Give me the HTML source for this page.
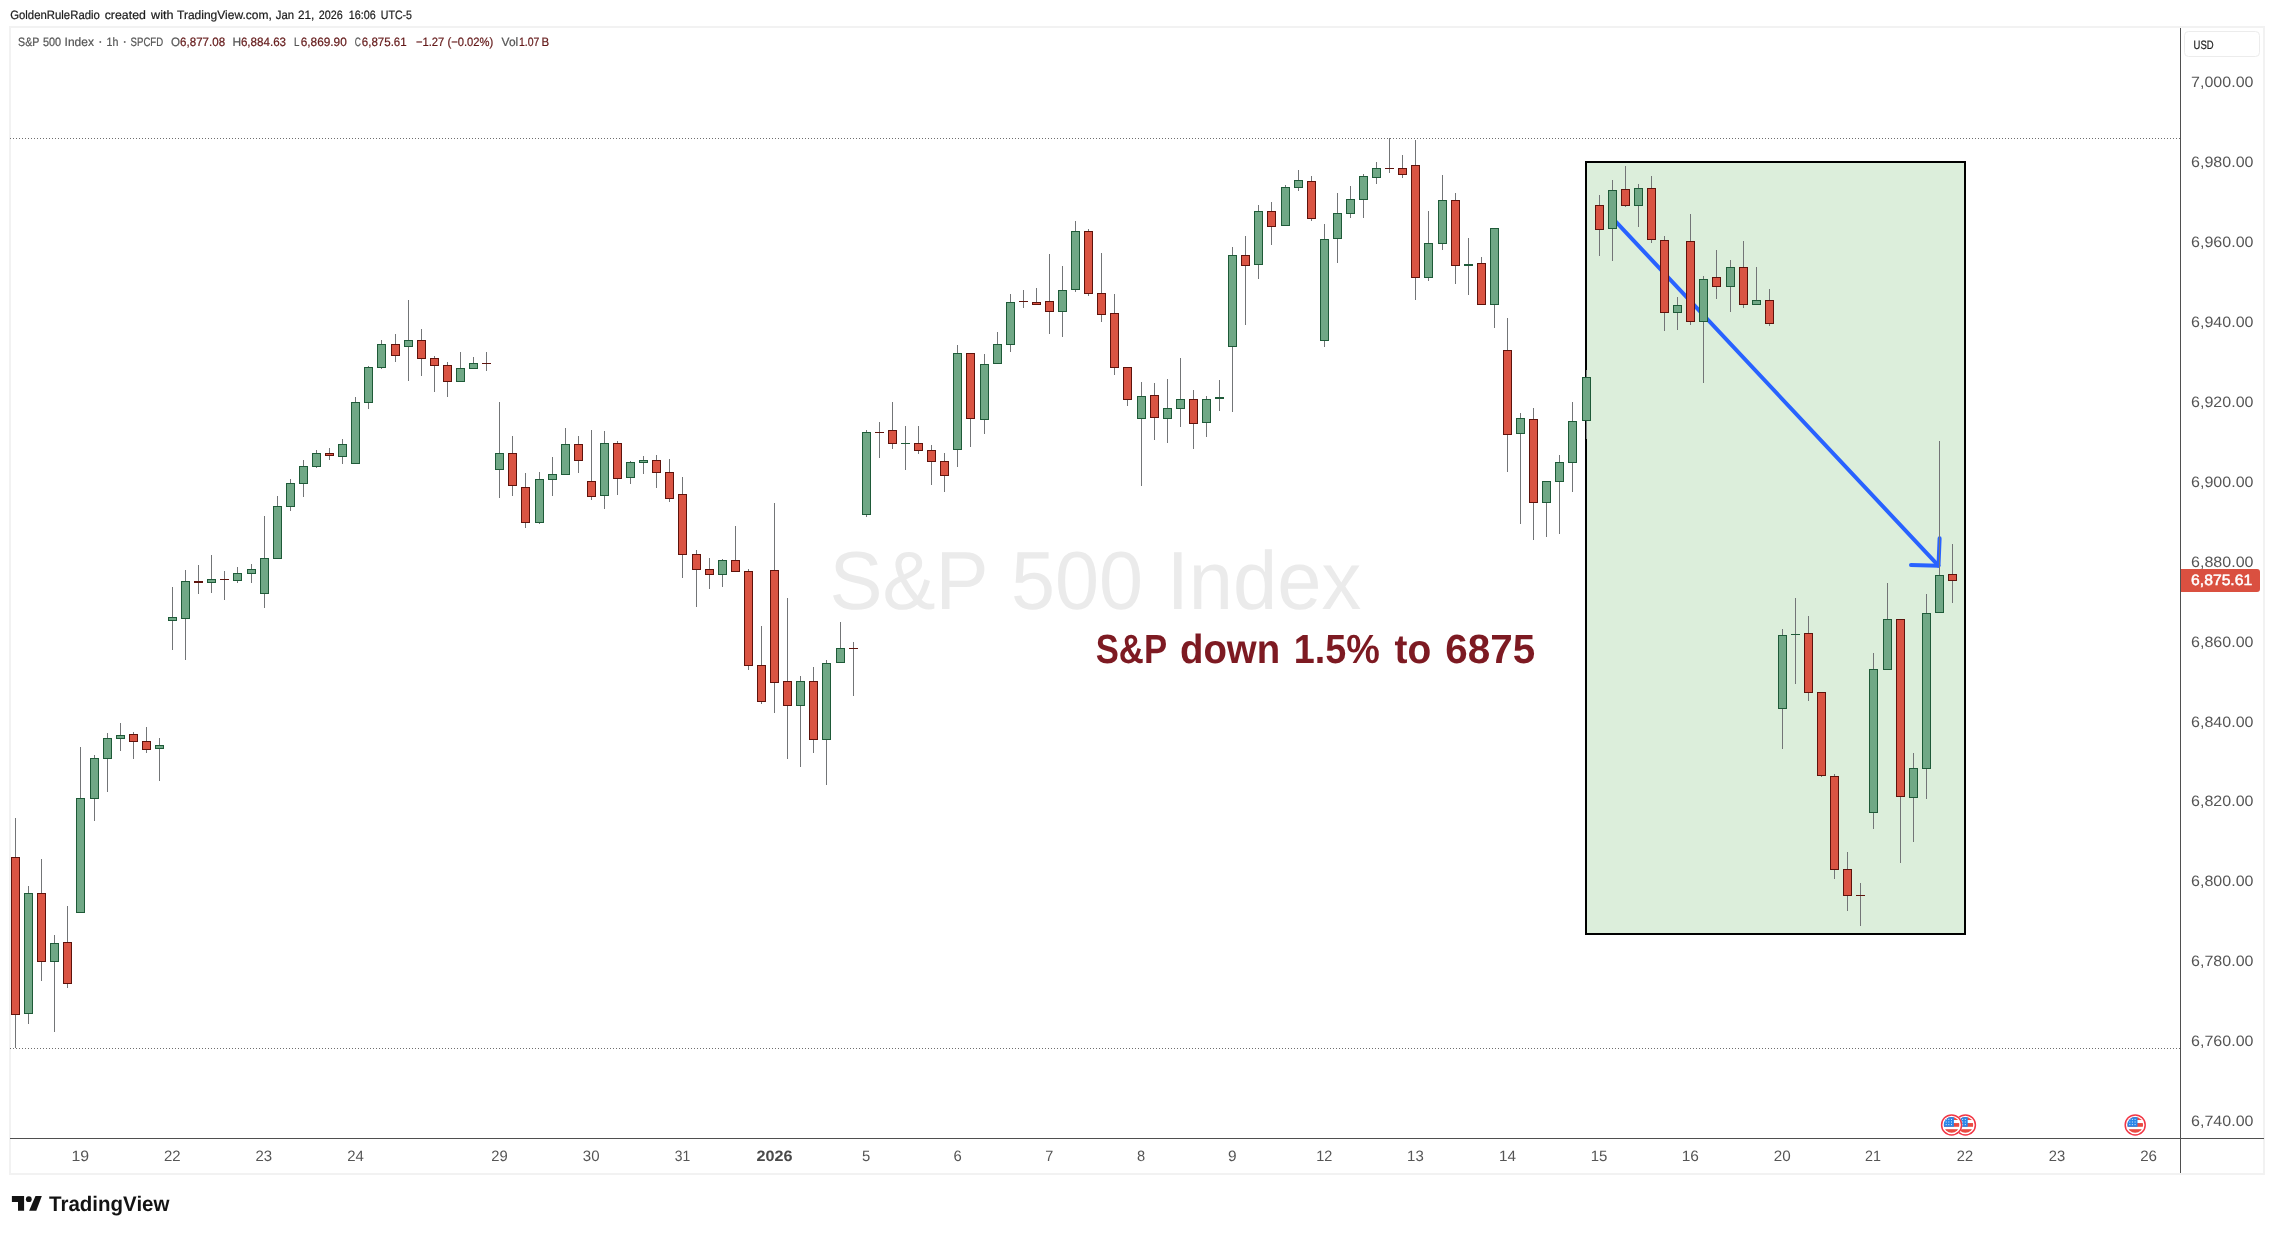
<!DOCTYPE html><html><head><meta charset="utf-8"><title>S&amp;P 500 Index</title><style>html,body{margin:0;padding:0;background:#fff;}body{width:2274px;height:1234px;overflow:hidden;}svg{display:block;font-family:"Liberation Sans", sans-serif;}text{white-space:pre;}</style></head><body><div style="will-change:transform;width:2274px;height:1234px">
<svg width="2274" height="1234" viewBox="0 0 2274 1234" shape-rendering="crispEdges" text-rendering="geometricPrecision">
<rect width="2274" height="1234" fill="#ffffff"/>
<rect x="10" y="27" width="2254" height="1146.5" fill="none" stroke="#f2f2f2" stroke-width="2"/>
<g shape-rendering="auto"><text transform="translate(829.51,609.00) scale(0.9636,1)" font-size="82.50" fill="#ebebeb">S&amp;P</text>
<text transform="translate(1011.12,609.00) scale(0.9585,1)" font-size="82.50" fill="#ebebeb">500</text>
<text transform="translate(1166.65,609.00) scale(0.9637,1)" font-size="82.50" fill="#ebebeb">Index</text></g>
<line x1="10" y1="138.5" x2="2180" y2="138.5" stroke="#6e6e6e" stroke-width="1" stroke-dasharray="1 2"/>
<line x1="10" y1="1048.5" x2="2180" y2="1048.5" stroke="#6e6e6e" stroke-width="1" stroke-dasharray="1 2"/>
<rect x="1586" y="162" width="379" height="772" fill="#dceedb" stroke="#000000" stroke-width="2"/>
<g shape-rendering="auto" stroke="#2962ff" stroke-width="4" stroke-linecap="round" fill="none"><line x1="1611.3" y1="216.8" x2="1938.4" y2="565.6"/><polyline points="1939.6,538.3 1938.5,565.7 1911,565.0" stroke-linejoin="round"/></g>
<rect x="15" y="818" width="1" height="230" fill="#737577"/>
<rect x="11" y="857" width="9" height="158" fill="#5e130c"/>
<rect x="12" y="858" width="7" height="156" fill="#da5443"/>
<rect x="28" y="886" width="1" height="138" fill="#737577"/>
<rect x="24" y="893" width="9" height="121" fill="#1e5a38"/>
<rect x="25" y="894" width="7" height="119" fill="#70a886"/>
<rect x="41" y="859" width="1" height="122" fill="#737577"/>
<rect x="37" y="893" width="9" height="69" fill="#5e130c"/>
<rect x="38" y="894" width="7" height="67" fill="#da5443"/>
<rect x="54" y="935" width="1" height="97" fill="#737577"/>
<rect x="50" y="943" width="9" height="19" fill="#1e5a38"/>
<rect x="51" y="944" width="7" height="17" fill="#70a886"/>
<rect x="67" y="906" width="1" height="82" fill="#737577"/>
<rect x="63" y="942" width="9" height="42" fill="#5e130c"/>
<rect x="64" y="943" width="7" height="40" fill="#da5443"/>
<rect x="80" y="747" width="1" height="166" fill="#737577"/>
<rect x="76" y="798" width="9" height="115" fill="#1e5a38"/>
<rect x="77" y="799" width="7" height="113" fill="#70a886"/>
<rect x="94" y="755" width="1" height="66" fill="#737577"/>
<rect x="90" y="758" width="9" height="41" fill="#1e5a38"/>
<rect x="91" y="759" width="7" height="39" fill="#70a886"/>
<rect x="107" y="733" width="1" height="59" fill="#737577"/>
<rect x="103" y="738" width="9" height="21" fill="#1e5a38"/>
<rect x="104" y="739" width="7" height="19" fill="#70a886"/>
<rect x="120" y="723" width="1" height="28" fill="#737577"/>
<rect x="116" y="735" width="9" height="4" fill="#1e5a38"/>
<rect x="117" y="736" width="7" height="2" fill="#70a886"/>
<rect x="133" y="732" width="1" height="27" fill="#737577"/>
<rect x="129" y="734" width="9" height="8" fill="#5e130c"/>
<rect x="130" y="735" width="7" height="6" fill="#da5443"/>
<rect x="146" y="727" width="1" height="26" fill="#737577"/>
<rect x="142" y="741" width="9" height="9" fill="#5e130c"/>
<rect x="143" y="742" width="7" height="7" fill="#da5443"/>
<rect x="159" y="738" width="1" height="43" fill="#737577"/>
<rect x="155" y="745" width="9" height="4" fill="#1e5a38"/>
<rect x="156" y="746" width="7" height="2" fill="#70a886"/>
<rect x="172" y="587" width="1" height="63" fill="#737577"/>
<rect x="168" y="617" width="9" height="4" fill="#1e5a38"/>
<rect x="169" y="618" width="7" height="2" fill="#70a886"/>
<rect x="185" y="570" width="1" height="90" fill="#737577"/>
<rect x="181" y="581" width="9" height="38" fill="#1e5a38"/>
<rect x="182" y="582" width="7" height="36" fill="#70a886"/>
<rect x="198" y="565" width="1" height="29" fill="#737577"/>
<rect x="194" y="581" width="9" height="2" fill="#5e130c"/>
<rect x="211" y="555" width="1" height="38" fill="#737577"/>
<rect x="207" y="579" width="9" height="4" fill="#1e5a38"/>
<rect x="208" y="580" width="7" height="2" fill="#70a886"/>
<rect x="224" y="571" width="1" height="29" fill="#737577"/>
<rect x="220" y="579" width="9" height="1" fill="#5e130c"/>
<rect x="237" y="567" width="1" height="16" fill="#737577"/>
<rect x="233" y="573" width="9" height="8" fill="#1e5a38"/>
<rect x="234" y="574" width="7" height="6" fill="#70a886"/>
<rect x="251" y="564" width="1" height="19" fill="#737577"/>
<rect x="247" y="569" width="9" height="5" fill="#1e5a38"/>
<rect x="248" y="570" width="7" height="3" fill="#70a886"/>
<rect x="264" y="516" width="1" height="92" fill="#737577"/>
<rect x="260" y="558" width="9" height="36" fill="#1e5a38"/>
<rect x="261" y="559" width="7" height="34" fill="#70a886"/>
<rect x="277" y="496" width="1" height="63" fill="#737577"/>
<rect x="273" y="506" width="9" height="53" fill="#1e5a38"/>
<rect x="274" y="507" width="7" height="51" fill="#70a886"/>
<rect x="290" y="479" width="1" height="32" fill="#737577"/>
<rect x="286" y="483" width="9" height="24" fill="#1e5a38"/>
<rect x="287" y="484" width="7" height="22" fill="#70a886"/>
<rect x="303" y="460" width="1" height="37" fill="#737577"/>
<rect x="299" y="466" width="9" height="18" fill="#1e5a38"/>
<rect x="300" y="467" width="7" height="16" fill="#70a886"/>
<rect x="316" y="450" width="1" height="18" fill="#737577"/>
<rect x="312" y="453" width="9" height="14" fill="#1e5a38"/>
<rect x="313" y="454" width="7" height="12" fill="#70a886"/>
<rect x="329" y="448" width="1" height="12" fill="#737577"/>
<rect x="325" y="453" width="9" height="3" fill="#5e130c"/>
<rect x="326" y="454" width="7" height="1" fill="#da5443"/>
<rect x="342" y="439" width="1" height="25" fill="#737577"/>
<rect x="338" y="444" width="9" height="13" fill="#1e5a38"/>
<rect x="339" y="445" width="7" height="11" fill="#70a886"/>
<rect x="355" y="397" width="1" height="67" fill="#737577"/>
<rect x="351" y="402" width="9" height="62" fill="#1e5a38"/>
<rect x="352" y="403" width="7" height="60" fill="#70a886"/>
<rect x="368" y="366" width="1" height="43" fill="#737577"/>
<rect x="364" y="367" width="9" height="36" fill="#1e5a38"/>
<rect x="365" y="368" width="7" height="34" fill="#70a886"/>
<rect x="381" y="340" width="1" height="29" fill="#737577"/>
<rect x="377" y="344" width="9" height="24" fill="#1e5a38"/>
<rect x="378" y="345" width="7" height="22" fill="#70a886"/>
<rect x="395" y="334" width="1" height="28" fill="#737577"/>
<rect x="391" y="344" width="9" height="12" fill="#5e130c"/>
<rect x="392" y="345" width="7" height="10" fill="#da5443"/>
<rect x="408" y="300" width="1" height="81" fill="#737577"/>
<rect x="404" y="340" width="9" height="7" fill="#1e5a38"/>
<rect x="405" y="341" width="7" height="5" fill="#70a886"/>
<rect x="421" y="329" width="1" height="47" fill="#737577"/>
<rect x="417" y="340" width="9" height="19" fill="#5e130c"/>
<rect x="418" y="341" width="7" height="17" fill="#da5443"/>
<rect x="434" y="356" width="1" height="36" fill="#737577"/>
<rect x="430" y="358" width="9" height="8" fill="#5e130c"/>
<rect x="431" y="359" width="7" height="6" fill="#da5443"/>
<rect x="447" y="362" width="1" height="35" fill="#737577"/>
<rect x="443" y="365" width="9" height="17" fill="#5e130c"/>
<rect x="444" y="366" width="7" height="15" fill="#da5443"/>
<rect x="460" y="352" width="1" height="30" fill="#737577"/>
<rect x="456" y="368" width="9" height="14" fill="#1e5a38"/>
<rect x="457" y="369" width="7" height="12" fill="#70a886"/>
<rect x="473" y="357" width="1" height="12" fill="#737577"/>
<rect x="469" y="363" width="9" height="6" fill="#1e5a38"/>
<rect x="470" y="364" width="7" height="4" fill="#70a886"/>
<rect x="486" y="352" width="1" height="19" fill="#737577"/>
<rect x="482" y="363" width="9" height="1" fill="#5e130c"/>
<rect x="499" y="402" width="1" height="96" fill="#737577"/>
<rect x="495" y="453" width="9" height="17" fill="#1e5a38"/>
<rect x="496" y="454" width="7" height="15" fill="#70a886"/>
<rect x="512" y="436" width="1" height="60" fill="#737577"/>
<rect x="508" y="453" width="9" height="33" fill="#5e130c"/>
<rect x="509" y="454" width="7" height="31" fill="#da5443"/>
<rect x="525" y="473" width="1" height="55" fill="#737577"/>
<rect x="521" y="487" width="9" height="36" fill="#5e130c"/>
<rect x="522" y="488" width="7" height="34" fill="#da5443"/>
<rect x="539" y="472" width="1" height="52" fill="#737577"/>
<rect x="535" y="479" width="9" height="44" fill="#1e5a38"/>
<rect x="536" y="480" width="7" height="42" fill="#70a886"/>
<rect x="552" y="457" width="1" height="39" fill="#737577"/>
<rect x="548" y="474" width="9" height="6" fill="#1e5a38"/>
<rect x="549" y="475" width="7" height="4" fill="#70a886"/>
<rect x="565" y="428" width="1" height="47" fill="#737577"/>
<rect x="561" y="444" width="9" height="31" fill="#1e5a38"/>
<rect x="562" y="445" width="7" height="29" fill="#70a886"/>
<rect x="578" y="436" width="1" height="37" fill="#737577"/>
<rect x="574" y="444" width="9" height="17" fill="#5e130c"/>
<rect x="575" y="445" width="7" height="15" fill="#da5443"/>
<rect x="591" y="430" width="1" height="70" fill="#737577"/>
<rect x="587" y="481" width="9" height="16" fill="#5e130c"/>
<rect x="588" y="482" width="7" height="14" fill="#da5443"/>
<rect x="604" y="431" width="1" height="78" fill="#737577"/>
<rect x="600" y="443" width="9" height="53" fill="#1e5a38"/>
<rect x="601" y="444" width="7" height="51" fill="#70a886"/>
<rect x="617" y="441" width="1" height="54" fill="#737577"/>
<rect x="613" y="443" width="9" height="36" fill="#5e130c"/>
<rect x="614" y="444" width="7" height="34" fill="#da5443"/>
<rect x="630" y="461" width="1" height="23" fill="#737577"/>
<rect x="626" y="462" width="9" height="16" fill="#1e5a38"/>
<rect x="627" y="463" width="7" height="14" fill="#70a886"/>
<rect x="643" y="456" width="1" height="18" fill="#737577"/>
<rect x="639" y="460" width="9" height="3" fill="#1e5a38"/>
<rect x="640" y="461" width="7" height="1" fill="#70a886"/>
<rect x="656" y="455" width="1" height="33" fill="#737577"/>
<rect x="652" y="460" width="9" height="13" fill="#5e130c"/>
<rect x="653" y="461" width="7" height="11" fill="#da5443"/>
<rect x="669" y="459" width="1" height="43" fill="#737577"/>
<rect x="665" y="472" width="9" height="27" fill="#5e130c"/>
<rect x="666" y="473" width="7" height="25" fill="#da5443"/>
<rect x="682" y="477" width="1" height="101" fill="#737577"/>
<rect x="678" y="494" width="9" height="61" fill="#5e130c"/>
<rect x="679" y="495" width="7" height="59" fill="#da5443"/>
<rect x="696" y="550" width="1" height="57" fill="#737577"/>
<rect x="692" y="554" width="9" height="16" fill="#5e130c"/>
<rect x="693" y="555" width="7" height="14" fill="#da5443"/>
<rect x="709" y="558" width="1" height="31" fill="#737577"/>
<rect x="705" y="569" width="9" height="6" fill="#5e130c"/>
<rect x="706" y="570" width="7" height="4" fill="#da5443"/>
<rect x="722" y="559" width="1" height="28" fill="#737577"/>
<rect x="718" y="560" width="9" height="15" fill="#1e5a38"/>
<rect x="719" y="561" width="7" height="13" fill="#70a886"/>
<rect x="735" y="526" width="1" height="46" fill="#737577"/>
<rect x="731" y="560" width="9" height="12" fill="#5e130c"/>
<rect x="732" y="561" width="7" height="10" fill="#da5443"/>
<rect x="748" y="569" width="1" height="101" fill="#737577"/>
<rect x="744" y="571" width="9" height="95" fill="#5e130c"/>
<rect x="745" y="572" width="7" height="93" fill="#da5443"/>
<rect x="761" y="626" width="1" height="78" fill="#737577"/>
<rect x="757" y="665" width="9" height="37" fill="#5e130c"/>
<rect x="758" y="666" width="7" height="35" fill="#da5443"/>
<rect x="774" y="503" width="1" height="210" fill="#737577"/>
<rect x="770" y="570" width="9" height="113" fill="#5e130c"/>
<rect x="771" y="571" width="7" height="111" fill="#da5443"/>
<rect x="787" y="598" width="1" height="161" fill="#737577"/>
<rect x="783" y="681" width="9" height="25" fill="#5e130c"/>
<rect x="784" y="682" width="7" height="23" fill="#da5443"/>
<rect x="800" y="676" width="1" height="91" fill="#737577"/>
<rect x="796" y="681" width="9" height="25" fill="#1e5a38"/>
<rect x="797" y="682" width="7" height="23" fill="#70a886"/>
<rect x="813" y="667" width="1" height="86" fill="#737577"/>
<rect x="809" y="681" width="9" height="59" fill="#5e130c"/>
<rect x="810" y="682" width="7" height="57" fill="#da5443"/>
<rect x="826" y="660" width="1" height="125" fill="#737577"/>
<rect x="822" y="663" width="9" height="77" fill="#1e5a38"/>
<rect x="823" y="664" width="7" height="75" fill="#70a886"/>
<rect x="840" y="622" width="1" height="41" fill="#737577"/>
<rect x="836" y="648" width="9" height="15" fill="#1e5a38"/>
<rect x="837" y="649" width="7" height="13" fill="#70a886"/>
<rect x="853" y="642" width="1" height="54" fill="#737577"/>
<rect x="849" y="648" width="9" height="1" fill="#5e130c"/>
<rect x="866" y="430" width="1" height="87" fill="#737577"/>
<rect x="862" y="432" width="9" height="83" fill="#1e5a38"/>
<rect x="863" y="433" width="7" height="81" fill="#70a886"/>
<rect x="879" y="422" width="1" height="36" fill="#737577"/>
<rect x="875" y="432" width="9" height="1" fill="#5e130c"/>
<rect x="892" y="402" width="1" height="47" fill="#737577"/>
<rect x="888" y="430" width="9" height="14" fill="#5e130c"/>
<rect x="889" y="431" width="7" height="12" fill="#da5443"/>
<rect x="905" y="426" width="1" height="44" fill="#737577"/>
<rect x="901" y="443" width="9" height="1" fill="#1e5a38"/>
<rect x="918" y="426" width="1" height="28" fill="#737577"/>
<rect x="914" y="443" width="9" height="8" fill="#5e130c"/>
<rect x="915" y="444" width="7" height="6" fill="#da5443"/>
<rect x="931" y="445" width="1" height="40" fill="#737577"/>
<rect x="927" y="450" width="9" height="12" fill="#5e130c"/>
<rect x="928" y="451" width="7" height="10" fill="#da5443"/>
<rect x="944" y="453" width="1" height="39" fill="#737577"/>
<rect x="940" y="461" width="9" height="15" fill="#5e130c"/>
<rect x="941" y="462" width="7" height="13" fill="#da5443"/>
<rect x="957" y="345" width="1" height="122" fill="#737577"/>
<rect x="953" y="353" width="9" height="97" fill="#1e5a38"/>
<rect x="954" y="354" width="7" height="95" fill="#70a886"/>
<rect x="970" y="353" width="1" height="94" fill="#737577"/>
<rect x="966" y="353" width="9" height="66" fill="#5e130c"/>
<rect x="967" y="354" width="7" height="64" fill="#da5443"/>
<rect x="984" y="354" width="1" height="80" fill="#737577"/>
<rect x="980" y="364" width="9" height="56" fill="#1e5a38"/>
<rect x="981" y="365" width="7" height="54" fill="#70a886"/>
<rect x="997" y="332" width="1" height="32" fill="#737577"/>
<rect x="993" y="344" width="9" height="20" fill="#1e5a38"/>
<rect x="994" y="345" width="7" height="18" fill="#70a886"/>
<rect x="1010" y="294" width="1" height="58" fill="#737577"/>
<rect x="1006" y="302" width="9" height="43" fill="#1e5a38"/>
<rect x="1007" y="303" width="7" height="41" fill="#70a886"/>
<rect x="1023" y="290" width="1" height="18" fill="#737577"/>
<rect x="1019" y="301" width="9" height="1" fill="#5e130c"/>
<rect x="1036" y="288" width="1" height="17" fill="#737577"/>
<rect x="1032" y="302" width="9" height="3" fill="#5e130c"/>
<rect x="1033" y="303" width="7" height="1" fill="#da5443"/>
<rect x="1049" y="254" width="1" height="80" fill="#737577"/>
<rect x="1045" y="301" width="9" height="11" fill="#5e130c"/>
<rect x="1046" y="302" width="7" height="9" fill="#da5443"/>
<rect x="1062" y="266" width="1" height="71" fill="#737577"/>
<rect x="1058" y="290" width="9" height="22" fill="#1e5a38"/>
<rect x="1059" y="291" width="7" height="20" fill="#70a886"/>
<rect x="1075" y="221" width="1" height="71" fill="#737577"/>
<rect x="1071" y="231" width="9" height="59" fill="#1e5a38"/>
<rect x="1072" y="232" width="7" height="57" fill="#70a886"/>
<rect x="1088" y="229" width="1" height="67" fill="#737577"/>
<rect x="1084" y="231" width="9" height="63" fill="#5e130c"/>
<rect x="1085" y="232" width="7" height="61" fill="#da5443"/>
<rect x="1101" y="253" width="1" height="69" fill="#737577"/>
<rect x="1097" y="293" width="9" height="22" fill="#5e130c"/>
<rect x="1098" y="294" width="7" height="20" fill="#da5443"/>
<rect x="1114" y="294" width="1" height="81" fill="#737577"/>
<rect x="1110" y="313" width="9" height="55" fill="#5e130c"/>
<rect x="1111" y="314" width="7" height="53" fill="#da5443"/>
<rect x="1127" y="367" width="1" height="39" fill="#737577"/>
<rect x="1123" y="367" width="9" height="33" fill="#5e130c"/>
<rect x="1124" y="368" width="7" height="31" fill="#da5443"/>
<rect x="1141" y="382" width="1" height="104" fill="#737577"/>
<rect x="1137" y="396" width="9" height="23" fill="#1e5a38"/>
<rect x="1138" y="397" width="7" height="21" fill="#70a886"/>
<rect x="1154" y="383" width="1" height="57" fill="#737577"/>
<rect x="1150" y="395" width="9" height="23" fill="#5e130c"/>
<rect x="1151" y="396" width="7" height="21" fill="#da5443"/>
<rect x="1167" y="379" width="1" height="64" fill="#737577"/>
<rect x="1163" y="408" width="9" height="11" fill="#1e5a38"/>
<rect x="1164" y="409" width="7" height="9" fill="#70a886"/>
<rect x="1180" y="358" width="1" height="69" fill="#737577"/>
<rect x="1176" y="399" width="9" height="10" fill="#1e5a38"/>
<rect x="1177" y="400" width="7" height="8" fill="#70a886"/>
<rect x="1193" y="390" width="1" height="59" fill="#737577"/>
<rect x="1189" y="399" width="9" height="25" fill="#5e130c"/>
<rect x="1190" y="400" width="7" height="23" fill="#da5443"/>
<rect x="1206" y="396" width="1" height="41" fill="#737577"/>
<rect x="1202" y="399" width="9" height="24" fill="#1e5a38"/>
<rect x="1203" y="400" width="7" height="22" fill="#70a886"/>
<rect x="1219" y="380" width="1" height="31" fill="#737577"/>
<rect x="1215" y="397" width="9" height="2" fill="#1e5a38"/>
<rect x="1232" y="247" width="1" height="165" fill="#737577"/>
<rect x="1228" y="255" width="9" height="92" fill="#1e5a38"/>
<rect x="1229" y="256" width="7" height="90" fill="#70a886"/>
<rect x="1245" y="236" width="1" height="89" fill="#737577"/>
<rect x="1241" y="255" width="9" height="11" fill="#5e130c"/>
<rect x="1242" y="256" width="7" height="9" fill="#da5443"/>
<rect x="1258" y="205" width="1" height="74" fill="#737577"/>
<rect x="1254" y="211" width="9" height="54" fill="#1e5a38"/>
<rect x="1255" y="212" width="7" height="52" fill="#70a886"/>
<rect x="1271" y="202" width="1" height="43" fill="#737577"/>
<rect x="1267" y="211" width="9" height="16" fill="#5e130c"/>
<rect x="1268" y="212" width="7" height="14" fill="#da5443"/>
<rect x="1285" y="185" width="1" height="41" fill="#737577"/>
<rect x="1281" y="187" width="9" height="39" fill="#1e5a38"/>
<rect x="1282" y="188" width="7" height="37" fill="#70a886"/>
<rect x="1298" y="170" width="1" height="21" fill="#737577"/>
<rect x="1294" y="180" width="9" height="8" fill="#1e5a38"/>
<rect x="1295" y="181" width="7" height="6" fill="#70a886"/>
<rect x="1311" y="176" width="1" height="45" fill="#737577"/>
<rect x="1307" y="181" width="9" height="38" fill="#5e130c"/>
<rect x="1308" y="182" width="7" height="36" fill="#da5443"/>
<rect x="1324" y="224" width="1" height="123" fill="#737577"/>
<rect x="1320" y="239" width="9" height="102" fill="#1e5a38"/>
<rect x="1321" y="240" width="7" height="100" fill="#70a886"/>
<rect x="1337" y="193" width="1" height="70" fill="#737577"/>
<rect x="1333" y="213" width="9" height="26" fill="#1e5a38"/>
<rect x="1334" y="214" width="7" height="24" fill="#70a886"/>
<rect x="1350" y="186" width="1" height="32" fill="#737577"/>
<rect x="1346" y="199" width="9" height="15" fill="#1e5a38"/>
<rect x="1347" y="200" width="7" height="13" fill="#70a886"/>
<rect x="1363" y="174" width="1" height="44" fill="#737577"/>
<rect x="1359" y="176" width="9" height="24" fill="#1e5a38"/>
<rect x="1360" y="177" width="7" height="22" fill="#70a886"/>
<rect x="1376" y="162" width="1" height="22" fill="#737577"/>
<rect x="1372" y="168" width="9" height="10" fill="#1e5a38"/>
<rect x="1373" y="169" width="7" height="8" fill="#70a886"/>
<rect x="1389" y="138" width="1" height="35" fill="#737577"/>
<rect x="1385" y="168" width="9" height="1" fill="#5e130c"/>
<rect x="1402" y="155" width="1" height="23" fill="#737577"/>
<rect x="1398" y="168" width="9" height="7" fill="#5e130c"/>
<rect x="1399" y="169" width="7" height="5" fill="#da5443"/>
<rect x="1415" y="140" width="1" height="160" fill="#737577"/>
<rect x="1411" y="165" width="9" height="113" fill="#5e130c"/>
<rect x="1412" y="166" width="7" height="111" fill="#da5443"/>
<rect x="1428" y="211" width="1" height="70" fill="#737577"/>
<rect x="1424" y="243" width="9" height="35" fill="#1e5a38"/>
<rect x="1425" y="244" width="7" height="33" fill="#70a886"/>
<rect x="1442" y="175" width="1" height="75" fill="#737577"/>
<rect x="1438" y="200" width="9" height="44" fill="#1e5a38"/>
<rect x="1439" y="201" width="7" height="42" fill="#70a886"/>
<rect x="1455" y="193" width="1" height="91" fill="#737577"/>
<rect x="1451" y="200" width="9" height="66" fill="#5e130c"/>
<rect x="1452" y="201" width="7" height="64" fill="#da5443"/>
<rect x="1468" y="238" width="1" height="57" fill="#737577"/>
<rect x="1464" y="264" width="9" height="2" fill="#1e5a38"/>
<rect x="1481" y="257" width="1" height="48" fill="#737577"/>
<rect x="1477" y="263" width="9" height="42" fill="#5e130c"/>
<rect x="1478" y="264" width="7" height="40" fill="#da5443"/>
<rect x="1494" y="228" width="1" height="100" fill="#737577"/>
<rect x="1490" y="228" width="9" height="77" fill="#1e5a38"/>
<rect x="1491" y="229" width="7" height="75" fill="#70a886"/>
<rect x="1507" y="318" width="1" height="154" fill="#737577"/>
<rect x="1503" y="350" width="9" height="85" fill="#5e130c"/>
<rect x="1504" y="351" width="7" height="83" fill="#da5443"/>
<rect x="1520" y="413" width="1" height="111" fill="#737577"/>
<rect x="1516" y="418" width="9" height="16" fill="#1e5a38"/>
<rect x="1517" y="419" width="7" height="14" fill="#70a886"/>
<rect x="1533" y="408" width="1" height="132" fill="#737577"/>
<rect x="1529" y="419" width="9" height="84" fill="#5e130c"/>
<rect x="1530" y="420" width="7" height="82" fill="#da5443"/>
<rect x="1546" y="481" width="1" height="56" fill="#737577"/>
<rect x="1542" y="481" width="9" height="22" fill="#1e5a38"/>
<rect x="1543" y="482" width="7" height="20" fill="#70a886"/>
<rect x="1559" y="455" width="1" height="79" fill="#737577"/>
<rect x="1555" y="462" width="9" height="20" fill="#1e5a38"/>
<rect x="1556" y="463" width="7" height="18" fill="#70a886"/>
<rect x="1572" y="402" width="1" height="90" fill="#737577"/>
<rect x="1568" y="421" width="9" height="42" fill="#1e5a38"/>
<rect x="1569" y="422" width="7" height="40" fill="#70a886"/>
<rect x="1586" y="370" width="1" height="69" fill="#737577"/>
<rect x="1582" y="377" width="9" height="44" fill="#1e5a38"/>
<rect x="1583" y="378" width="7" height="42" fill="#70a886"/>
<rect x="1599" y="195" width="1" height="61" fill="#737577"/>
<rect x="1595" y="205" width="9" height="25" fill="#5e130c"/>
<rect x="1596" y="206" width="7" height="23" fill="#da5443"/>
<rect x="1612" y="180" width="1" height="81" fill="#737577"/>
<rect x="1608" y="190" width="9" height="39" fill="#1e5a38"/>
<rect x="1609" y="191" width="7" height="37" fill="#70a886"/>
<rect x="1625" y="166" width="1" height="41" fill="#737577"/>
<rect x="1621" y="189" width="9" height="17" fill="#5e130c"/>
<rect x="1622" y="190" width="7" height="15" fill="#da5443"/>
<rect x="1638" y="184" width="1" height="43" fill="#737577"/>
<rect x="1634" y="188" width="9" height="18" fill="#1e5a38"/>
<rect x="1635" y="189" width="7" height="16" fill="#70a886"/>
<rect x="1651" y="176" width="1" height="67" fill="#737577"/>
<rect x="1647" y="188" width="9" height="52" fill="#5e130c"/>
<rect x="1648" y="189" width="7" height="50" fill="#da5443"/>
<rect x="1664" y="236" width="1" height="95" fill="#737577"/>
<rect x="1660" y="240" width="9" height="73" fill="#5e130c"/>
<rect x="1661" y="241" width="7" height="71" fill="#da5443"/>
<rect x="1677" y="297" width="1" height="33" fill="#737577"/>
<rect x="1673" y="305" width="9" height="8" fill="#1e5a38"/>
<rect x="1674" y="306" width="7" height="6" fill="#70a886"/>
<rect x="1690" y="214" width="1" height="111" fill="#737577"/>
<rect x="1686" y="241" width="9" height="81" fill="#5e130c"/>
<rect x="1687" y="242" width="7" height="79" fill="#da5443"/>
<rect x="1703" y="276" width="1" height="107" fill="#737577"/>
<rect x="1699" y="279" width="9" height="43" fill="#1e5a38"/>
<rect x="1700" y="280" width="7" height="41" fill="#70a886"/>
<rect x="1716" y="250" width="1" height="49" fill="#737577"/>
<rect x="1712" y="277" width="9" height="10" fill="#5e130c"/>
<rect x="1713" y="278" width="7" height="8" fill="#da5443"/>
<rect x="1730" y="260" width="1" height="52" fill="#737577"/>
<rect x="1726" y="267" width="9" height="20" fill="#1e5a38"/>
<rect x="1727" y="268" width="7" height="18" fill="#70a886"/>
<rect x="1743" y="241" width="1" height="67" fill="#737577"/>
<rect x="1739" y="267" width="9" height="38" fill="#5e130c"/>
<rect x="1740" y="268" width="7" height="36" fill="#da5443"/>
<rect x="1756" y="267" width="1" height="38" fill="#737577"/>
<rect x="1752" y="300" width="9" height="5" fill="#1e5a38"/>
<rect x="1753" y="301" width="7" height="3" fill="#70a886"/>
<rect x="1769" y="289" width="1" height="37" fill="#737577"/>
<rect x="1765" y="300" width="9" height="24" fill="#5e130c"/>
<rect x="1766" y="301" width="7" height="22" fill="#da5443"/>
<rect x="1782" y="629" width="1" height="120" fill="#737577"/>
<rect x="1778" y="635" width="9" height="74" fill="#1e5a38"/>
<rect x="1779" y="636" width="7" height="72" fill="#70a886"/>
<rect x="1795" y="598" width="1" height="86" fill="#737577"/>
<rect x="1791" y="634" width="9" height="1" fill="#1e5a38"/>
<rect x="1808" y="616" width="1" height="85" fill="#737577"/>
<rect x="1804" y="633" width="9" height="60" fill="#5e130c"/>
<rect x="1805" y="634" width="7" height="58" fill="#da5443"/>
<rect x="1821" y="692" width="1" height="85" fill="#737577"/>
<rect x="1817" y="692" width="9" height="84" fill="#5e130c"/>
<rect x="1818" y="693" width="7" height="82" fill="#da5443"/>
<rect x="1834" y="774" width="1" height="105" fill="#737577"/>
<rect x="1830" y="776" width="9" height="94" fill="#5e130c"/>
<rect x="1831" y="777" width="7" height="92" fill="#da5443"/>
<rect x="1847" y="852" width="1" height="59" fill="#737577"/>
<rect x="1843" y="869" width="9" height="27" fill="#5e130c"/>
<rect x="1844" y="870" width="7" height="25" fill="#da5443"/>
<rect x="1860" y="883" width="1" height="43" fill="#737577"/>
<rect x="1856" y="895" width="9" height="1" fill="#5e130c"/>
<rect x="1873" y="653" width="1" height="176" fill="#737577"/>
<rect x="1869" y="669" width="9" height="144" fill="#1e5a38"/>
<rect x="1870" y="670" width="7" height="142" fill="#70a886"/>
<rect x="1887" y="583" width="1" height="87" fill="#737577"/>
<rect x="1883" y="619" width="9" height="51" fill="#1e5a38"/>
<rect x="1884" y="620" width="7" height="49" fill="#70a886"/>
<rect x="1900" y="619" width="1" height="244" fill="#737577"/>
<rect x="1896" y="619" width="9" height="178" fill="#5e130c"/>
<rect x="1897" y="620" width="7" height="176" fill="#da5443"/>
<rect x="1913" y="753" width="1" height="89" fill="#737577"/>
<rect x="1909" y="768" width="9" height="30" fill="#1e5a38"/>
<rect x="1910" y="769" width="7" height="28" fill="#70a886"/>
<rect x="1926" y="594" width="1" height="205" fill="#737577"/>
<rect x="1922" y="613" width="9" height="156" fill="#1e5a38"/>
<rect x="1923" y="614" width="7" height="154" fill="#70a886"/>
<rect x="1939" y="441" width="1" height="172" fill="#737577"/>
<rect x="1935" y="575" width="9" height="38" fill="#1e5a38"/>
<rect x="1936" y="576" width="7" height="36" fill="#70a886"/>
<rect x="1952" y="544" width="1" height="59" fill="#737577"/>
<rect x="1948" y="574" width="9" height="7" fill="#5e130c"/>
<rect x="1949" y="575" width="7" height="5" fill="#da5443"/>
<rect x="2180" y="28" width="1" height="1145" fill="#4f4f4f"/>
<rect x="10" y="1138" width="2254" height="1" fill="#4f4f4f"/>
<rect x="2184.5" y="31.5" width="75" height="25" rx="4" fill="#ffffff" stroke="#ececec" stroke-width="1" shape-rendering="auto"/>
<path d="M2181 569 H2257 Q2260 569 2260 572 V589 Q2260 592 2257 592 H2181 Z" fill="#da5040" shape-rendering="auto"/>
<g shape-rendering="auto"><g transform="translate(1965.4,1124.9)">
<circle r="10.7" fill="#ffffff"/>
<clipPath id="fc1"><circle r="7.9"/></clipPath>
<g clip-path="url(#fc1)">
<rect x="-8" y="-8" width="16" height="16" fill="#ffffff"/>
<rect x="-8" y="-8" width="16" height="3.1" fill="#ea4a42"/>
<rect x="-8" y="-1.85" width="16" height="3.75" fill="#ea4a42"/>
<rect x="-8" y="4.3" width="16" height="4" fill="#ea4a42"/>
<rect x="-8" y="-8" width="10.3" height="9.9" fill="#2a86e8"/>
<g fill="#ffffff" opacity="0.85">
<rect x="-5.9" y="-6" width="1" height="1"/><rect x="-3.3" y="-6" width="1" height="1"/><rect x="-0.6" y="-6" width="1" height="1"/>
<rect x="-5.9" y="-3.4" width="1" height="1"/><rect x="-3.3" y="-3.4" width="1" height="1"/><rect x="-0.6" y="-3.4" width="1" height="1"/>
<rect x="-5.9" y="-0.8" width="1" height="1"/><rect x="-3.3" y="-0.8" width="1" height="1"/><rect x="-0.6" y="-0.8" width="1" height="1"/>
</g></g>
<circle r="10" fill="none" stroke="#f23645" stroke-width="1.5"/>
</g><g transform="translate(1951.6,1124.9)">
<circle r="10.7" fill="#ffffff"/>
<clipPath id="fc2"><circle r="7.9"/></clipPath>
<g clip-path="url(#fc2)">
<rect x="-8" y="-8" width="16" height="16" fill="#ffffff"/>
<rect x="-8" y="-8" width="16" height="3.1" fill="#ea4a42"/>
<rect x="-8" y="-1.85" width="16" height="3.75" fill="#ea4a42"/>
<rect x="-8" y="4.3" width="16" height="4" fill="#ea4a42"/>
<rect x="-8" y="-8" width="10.3" height="9.9" fill="#2a86e8"/>
<g fill="#ffffff" opacity="0.85">
<rect x="-5.9" y="-6" width="1" height="1"/><rect x="-3.3" y="-6" width="1" height="1"/><rect x="-0.6" y="-6" width="1" height="1"/>
<rect x="-5.9" y="-3.4" width="1" height="1"/><rect x="-3.3" y="-3.4" width="1" height="1"/><rect x="-0.6" y="-3.4" width="1" height="1"/>
<rect x="-5.9" y="-0.8" width="1" height="1"/><rect x="-3.3" y="-0.8" width="1" height="1"/><rect x="-0.6" y="-0.8" width="1" height="1"/>
</g></g>
<circle r="10" fill="none" stroke="#f23645" stroke-width="1.5"/>
</g><g transform="translate(2135.2,1124.9)">
<circle r="10.7" fill="#ffffff"/>
<clipPath id="fc3"><circle r="7.9"/></clipPath>
<g clip-path="url(#fc3)">
<rect x="-8" y="-8" width="16" height="16" fill="#ffffff"/>
<rect x="-8" y="-8" width="16" height="3.1" fill="#ea4a42"/>
<rect x="-8" y="-1.85" width="16" height="3.75" fill="#ea4a42"/>
<rect x="-8" y="4.3" width="16" height="4" fill="#ea4a42"/>
<rect x="-8" y="-8" width="10.3" height="9.9" fill="#2a86e8"/>
<g fill="#ffffff" opacity="0.85">
<rect x="-5.9" y="-6" width="1" height="1"/><rect x="-3.3" y="-6" width="1" height="1"/><rect x="-0.6" y="-6" width="1" height="1"/>
<rect x="-5.9" y="-3.4" width="1" height="1"/><rect x="-3.3" y="-3.4" width="1" height="1"/><rect x="-0.6" y="-3.4" width="1" height="1"/>
<rect x="-5.9" y="-0.8" width="1" height="1"/><rect x="-3.3" y="-0.8" width="1" height="1"/><rect x="-0.6" y="-0.8" width="1" height="1"/>
</g></g>
<circle r="10" fill="none" stroke="#f23645" stroke-width="1.5"/>
</g></g>
<g shape-rendering="auto" fill="#131313"><path d="M11.9 1196.1 H24.1 V1210.7 H18 V1202 H11.9 Z"/><circle cx="28.8" cy="1199.2" r="2.9"/><path d="M35.5 1196.1 H41.8 L36.3 1210.7 H29.1 Z"/></g>
<g shape-rendering="auto" fill="#555555"><rect x="99.5" y="41.2" width="1.6" height="1.6"/><rect x="123.9" y="41.2" width="1.6" height="1.6"/></g>
<g shape-rendering="auto"><text transform="translate(10.20,18.60) scale(0.9367,1)" font-size="12.14" fill="#1c1c1c" stroke="#1c1c1c" stroke-width="0.22">GoldenRuleRadio</text>
<text transform="translate(104.70,18.60) scale(1.0177,1)" font-size="12.14" fill="#1c1c1c" stroke="#1c1c1c" stroke-width="0.22">created</text>
<text transform="translate(151.04,18.60) scale(1.0404,1)" font-size="12.14" fill="#1c1c1c" stroke="#1c1c1c" stroke-width="0.22">with</text>
<text transform="translate(177.00,18.60) scale(0.9903,1)" font-size="12.14" fill="#1c1c1c" stroke="#1c1c1c" stroke-width="0.22">TradingView.com,</text>
<text transform="translate(275.80,18.60) scale(0.9359,1)" font-size="12.14" fill="#1c1c1c" stroke="#1c1c1c" stroke-width="0.22">Jan</text>
<text transform="translate(298.00,18.60) scale(0.9705,1)" font-size="12.14" fill="#1c1c1c" stroke="#1c1c1c" stroke-width="0.22">21,</text>
<text transform="translate(318.80,18.60) scale(0.8887,1)" font-size="12.14" fill="#1c1c1c" stroke="#1c1c1c" stroke-width="0.22">2026</text>
<text transform="translate(348.80,18.60) scale(0.8857,1)" font-size="12.14" fill="#1c1c1c" stroke="#1c1c1c" stroke-width="0.22">16:06</text>
<text transform="translate(380.80,18.60) scale(0.8733,1)" font-size="12.14" fill="#1c1c1c" stroke="#1c1c1c" stroke-width="0.22">UTC-5</text>
<text transform="translate(18.10,45.60) scale(0.8728,1)" font-size="12.14" fill="#555555" stroke="#555555" stroke-width="0.22">S&amp;P</text>
<text transform="translate(42.90,45.60) scale(0.8981,1)" font-size="12.14" fill="#555555" stroke="#555555" stroke-width="0.22">500</text>
<text transform="translate(64.61,45.60) scale(0.9896,1)" font-size="12.14" fill="#555555" stroke="#555555" stroke-width="0.22">Index</text>
<text transform="translate(106.60,45.60) scale(0.8789,1)" font-size="12.14" fill="#555555" stroke="#555555" stroke-width="0.22">1h</text>
<text transform="translate(130.60,45.60) scale(0.7911,1)" font-size="12.14" fill="#555555" stroke="#555555" stroke-width="0.22">SPCFD</text>
<text transform="translate(171.10,45.60) scale(0.9556,1)" font-size="12.14" fill="#555555" stroke="#555555" stroke-width="0.22">O</text>
<text transform="translate(180.10,45.60) scale(0.9525,1)" font-size="12.14" fill="#641a1a" stroke="#641a1a" stroke-width="0.22">6,877.08</text>
<text transform="translate(232.51,45.60) scale(0.9857,1)" font-size="12.14" fill="#555555" stroke="#555555" stroke-width="0.22">H</text>
<text transform="translate(240.90,45.60) scale(0.9567,1)" font-size="12.14" fill="#641a1a" stroke="#641a1a" stroke-width="0.22">6,884.63</text>
<text transform="translate(294.00,45.60) scale(0.8000,1)" font-size="12.14" fill="#555555" stroke="#555555" stroke-width="0.22">L</text>
<text transform="translate(300.70,45.60) scale(0.9757,1)" font-size="12.14" fill="#641a1a" stroke="#641a1a" stroke-width="0.22">6,869.90</text>
<text transform="translate(354.70,45.60) scale(0.7000,1)" font-size="12.14" fill="#555555" stroke="#555555" stroke-width="0.22">C</text>
<text transform="translate(361.80,45.60) scale(0.9504,1)" font-size="12.14" fill="#641a1a" stroke="#641a1a" stroke-width="0.22">6,875.61</text>
<text transform="translate(415.90,45.60) scale(0.9264,1)" font-size="12.14" fill="#641a1a" stroke="#641a1a" stroke-width="0.22">−1.27 (−0.02%)</text>
<text transform="translate(501.60,45.60) scale(0.9838,1)" font-size="12.14" fill="#555555" stroke="#555555" stroke-width="0.22">Vol</text>
<text transform="translate(519.00,45.60) scale(0.8635,1)" font-size="12.14" fill="#641a1a" stroke="#641a1a" stroke-width="0.22">1.07</text>
<text transform="translate(541.56,45.60) scale(0.9429,1)" font-size="12.14" fill="#641a1a" stroke="#641a1a" stroke-width="0.22">B</text>
<text transform="translate(2193.60,48.80) scale(0.7816,1)" font-size="12.14" fill="#222222" stroke="#222222" stroke-width="0.22">USD</text>
<text transform="translate(2191.10,87.00) scale(1.0681,1)" font-size="15.00" fill="#555555">7,000.00</text>
<text transform="translate(2191.10,167.00) scale(1.0681,1)" font-size="15.00" fill="#555555">6,980.00</text>
<text transform="translate(2191.10,247.00) scale(1.0681,1)" font-size="15.00" fill="#555555">6,960.00</text>
<text transform="translate(2191.10,327.00) scale(1.0681,1)" font-size="15.00" fill="#555555">6,940.00</text>
<text transform="translate(2191.10,407.00) scale(1.0681,1)" font-size="15.00" fill="#555555">6,920.00</text>
<text transform="translate(2191.10,487.00) scale(1.0681,1)" font-size="15.00" fill="#555555">6,900.00</text>
<text transform="translate(2191.10,567.00) scale(1.0681,1)" font-size="15.00" fill="#555555">6,880.00</text>
<text transform="translate(2191.10,647.00) scale(1.0681,1)" font-size="15.00" fill="#555555">6,860.00</text>
<text transform="translate(2191.10,727.00) scale(1.0681,1)" font-size="15.00" fill="#555555">6,840.00</text>
<text transform="translate(2191.10,806.00) scale(1.0681,1)" font-size="15.00" fill="#555555">6,820.00</text>
<text transform="translate(2191.10,886.00) scale(1.0681,1)" font-size="15.00" fill="#555555">6,800.00</text>
<text transform="translate(2191.10,966.00) scale(1.0681,1)" font-size="15.00" fill="#555555">6,780.00</text>
<text transform="translate(2191.10,1046.00) scale(1.0681,1)" font-size="15.00" fill="#555555">6,760.00</text>
<text transform="translate(2191.10,1126.00) scale(1.0681,1)" font-size="15.00" fill="#555555">6,740.00</text>
<text transform="translate(2191.10,584.60) scale(1.0457,1)" font-size="15.00" fill="#ffffff" stroke="#ffffff" stroke-width="0.5">6,875.61</text>
<text transform="translate(71.54,1161.00) scale(1.0559,1)" font-size="15.00" fill="#555555">19</text>
<text transform="translate(164.00,1161.00) scale(0.9974,1)" font-size="15.00" fill="#555555">22</text>
<text transform="translate(255.50,1161.00) scale(0.9974,1)" font-size="15.00" fill="#555555">23</text>
<text transform="translate(347.20,1161.00) scale(0.9974,1)" font-size="15.00" fill="#555555">24</text>
<text transform="translate(491.20,1161.00) scale(0.9852,1)" font-size="15.00" fill="#555555">29</text>
<text transform="translate(582.80,1161.00) scale(1.0035,1)" font-size="15.00" fill="#555555">30</text>
<text transform="translate(674.70,1161.00) scale(0.9240,1)" font-size="15.00" fill="#555555">31</text>
<text transform="translate(862.00,1161.00) scale(0.9875,1)" font-size="15.00" fill="#555555">5</text>
<text transform="translate(953.60,1161.00) scale(0.9875,1)" font-size="15.00" fill="#555555">6</text>
<text transform="translate(1045.20,1161.00) scale(0.9625,1)" font-size="15.00" fill="#555555">7</text>
<text transform="translate(1137.00,1161.00) scale(0.9750,1)" font-size="15.00" fill="#555555">8</text>
<text transform="translate(1227.90,1161.00) scale(1.0250,1)" font-size="15.00" fill="#555555">9</text>
<text transform="translate(1316.14,1161.00) scale(0.9647,1)" font-size="15.00" fill="#555555">12</text>
<text transform="translate(1407.10,1161.00) scale(0.9972,1)" font-size="15.00" fill="#555555">13</text>
<text transform="translate(1498.98,1161.00) scale(1.0168,1)" font-size="15.00" fill="#555555">14</text>
<text transform="translate(1590.70,1161.00) scale(0.9972,1)" font-size="15.00" fill="#555555">15</text>
<text transform="translate(1681.67,1161.00) scale(1.0298,1)" font-size="15.00" fill="#555555">16</text>
<text transform="translate(1773.70,1161.00) scale(1.0158,1)" font-size="15.00" fill="#555555">20</text>
<text transform="translate(1865.10,1161.00) scale(0.9546,1)" font-size="15.00" fill="#555555">21</text>
<text transform="translate(1956.80,1161.00) scale(0.9791,1)" font-size="15.00" fill="#555555">22</text>
<text transform="translate(2048.70,1161.00) scale(0.9852,1)" font-size="15.00" fill="#555555">23</text>
<text transform="translate(2140.20,1161.00) scale(1.0097,1)" font-size="15.00" fill="#555555">26</text>
<text transform="translate(756.40,1161.00) scale(1.0779,1)" font-size="15.00" fill="#4a4a4a" font-weight="bold">2026</text>
<text transform="translate(1095.65,662.80) scale(0.8538,1)" font-size="40.70" fill="#7d1a22" font-weight="bold">S&amp;P</text>
<text transform="translate(1179.96,662.80) scale(0.9433,1)" font-size="40.70" fill="#7d1a22" font-weight="bold">down</text>
<text transform="translate(1293.84,662.80) scale(0.9275,1)" font-size="40.70" fill="#7d1a22" font-weight="bold">1.5%</text>
<text transform="translate(1394.50,662.80) scale(0.9561,1)" font-size="40.70" fill="#7d1a22" font-weight="bold">to</text>
<text transform="translate(1445.21,662.80) scale(0.9934,1)" font-size="40.70" fill="#7d1a22" font-weight="bold">6875</text>
<text transform="translate(49.10,1210.70) scale(0.9657,1)" font-size="21.22" fill="#131313" font-weight="bold">TradingView</text></g>
</svg></div></body></html>
